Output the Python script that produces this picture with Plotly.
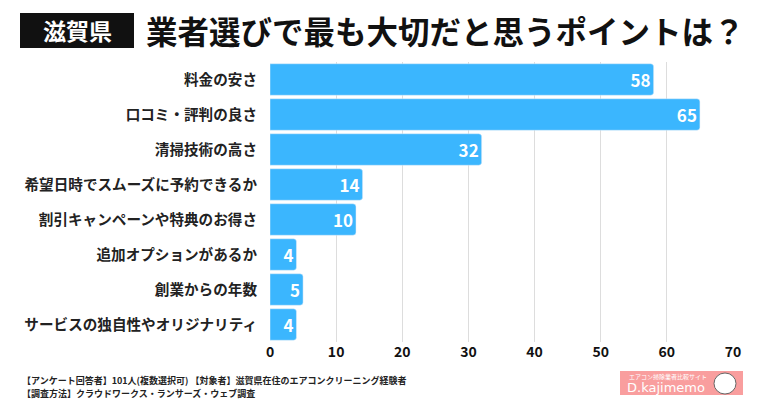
import plotly.graph_objects as go

categories = [
    "料金の安さ",
    "口コミ・評判の良さ",
    "清掃技術の高さ",
    "希望日時でスムーズに予約できるか",
    "割引キャンペーンや特典のお得さ",
    "追加オプションがあるか",
    "創業からの年数",
    "サービスの独自性やオリジナリティ",
]
bar_values = [58, 65, 32, 14, 13, 4, 5, 4]
bar_labels = ["58", "65", "32", "14", "10", "4", "5", "4"]
x_ticks = [0, 10, 20, 30, 40, 50, 60, 70]

title_tag = "滋賀県"
title_text = "業者選びで最も大切だと思うポイントは？"
footer_line1 = "【アンケート回答者】101人(複数選択可) 【対象者】滋賀県在住のエアコンクリーニング経験者"
footer_line2 = "【調査方法】クラウドワークス・ランサーズ・ウェブ調査"

W, H = 760, 400
L, R, T, B = 270, 27, 62, 58
PW, PH = W - L - R, H - T - B
FONT = "Noto Sans CJK JP"


def px(x):
    return (x - L) / PW


def py(y):
    return (H - B - y) / PH


fig = go.Figure(
    go.Bar(
        x=bar_values,
        y=categories,
        orientation="h",
        marker=dict(color="#3BB6FE", cornerradius=3),
        text=bar_labels,
        texttemplate="%{text}",
        textposition="inside",
        insidetextanchor="end",
        textfont=dict(color="white", size=17, family=FONT, weight="bold"),
        hoverinfo="skip",
    )
)

fig.update_layout(
    width=W,
    height=H,
    margin=dict(l=L, r=R, t=T, b=B),
    paper_bgcolor="white",
    plot_bgcolor="white",
    showlegend=False,
    bargap=0.1,
    font=dict(family=FONT, color="#222"),
    xaxis=dict(
        range=[0, 70],
        tickvals=x_ticks,
        showgrid=True,
        gridcolor="#DDDDDD",
        gridwidth=1,
        zeroline=False,
        showline=False,
        tickfont=dict(size=14, color="#111", family=FONT, weight="bold"),
        ticks="",
        fixedrange=True,
    ),
    yaxis=dict(
        categoryorder="array",
        categoryarray=categories,
        autorange="reversed",
        showgrid=False,
        zeroline=False,
        showline=False,
        ticks="",
        ticklabelstandoff=12,
        tickfont=dict(size=14.6, color="#222", family=FONT, weight="bold"),
        fixedrange=True,
    ),
)

shapes = [
    # title tag box
    dict(type="rect", xref="paper", yref="paper",
         x0=px(20), x1=px(134), y0=py(48), y1=py(13),
         fillcolor="#111111", line=dict(width=0)),
    # logo background
    dict(type="rect", xref="paper", yref="paper",
         x0=px(620), x1=px(743), y0=py(395), y1=py(371),
         fillcolor="#F99E9E", line=dict(width=0)),
    # logo mascot
    dict(type="circle", xref="paper", yref="paper",
         x0=px(714), x1=px(736), y0=py(394), y1=py(373),
         fillcolor="white", line=dict(color="#666", width=1)),
]

annotations = [
    dict(text=title_tag, xref="paper", yref="paper", x=px(77), y=py(30.5),
         xanchor="center", yanchor="middle", showarrow=False,
         font=dict(size=23, color="white", family=FONT, weight="bold")),
    dict(text=title_text, xref="paper", yref="paper", x=px(445), y=py(30),
         xanchor="center", yanchor="middle", showarrow=False,
         font=dict(size=31.5, color="#111", family=FONT, weight="bold")),
    dict(text=footer_line1, xref="paper", yref="paper", x=px(20), y=py(380),
         xanchor="left", yanchor="middle", showarrow=False,
         font=dict(size=9, color="#222", family=FONT, weight="bold")),
    dict(text=footer_line2, xref="paper", yref="paper", x=px(20), y=py(393),
         xanchor="left", yanchor="middle", showarrow=False,
         font=dict(size=9, color="#222", family=FONT, weight="bold")),
    dict(text="エアコン掃除業者比較サイト", xref="paper", yref="paper", x=px(668), y=py(376),
         xanchor="center", yanchor="middle", showarrow=False,
         font=dict(size=6, color="white", family=FONT)),
    dict(text="D.kajimemo", xref="paper", yref="paper", x=px(666), y=py(387),
         xanchor="center", yanchor="middle", showarrow=False,
         font=dict(size=13, color="white", family="DejaVu Sans")),
]

fig.update_layout(shapes=shapes, annotations=annotations)

fig.write_html(
    "out.html",
    config={"displayModeBar": False},
    post_script="document.body.style.margin='0';document.body.style.overflow='hidden';",
)
